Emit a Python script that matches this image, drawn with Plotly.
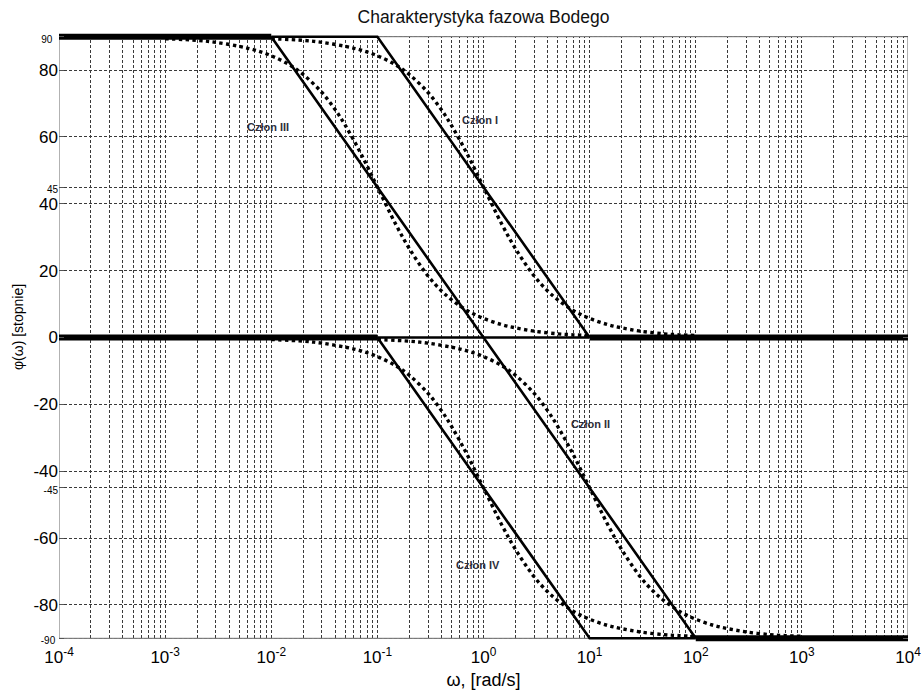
import math
import plotly.graph_objects as go

# --- Charakterystyki fazowe: przebiegi dokładne (punkty odczytane) ---
w_I = [0.01, 0.02, 0.03, 0.05, 0.07, 0.1, 0.15, 0.2, 0.3, 0.4, 0.5, 0.7, 1, 1.5, 2, 3, 4, 5, 7, 10, 15, 20, 30, 50, 70, 100]
phi_I = [89.4, 88.9, 88.3, 87.1, 86.0, 84.3, 81.5, 78.7, 73.3, 68.2, 63.4, 55.0, 45.0, 33.7, 26.6, 18.4, 14.0, 11.3, 8.1, 5.7, 3.8, 2.9, 1.9, 1.1, 0.8, 0.6]

w_III = [0.001, 0.002, 0.003, 0.005, 0.007, 0.01, 0.015, 0.02, 0.03, 0.04, 0.05, 0.07, 0.1, 0.15, 0.2, 0.3, 0.4, 0.5, 0.7, 1, 1.5, 2, 3, 5, 7, 10]
phi_III = [89.4, 88.9, 88.3, 87.1, 86.0, 84.3, 81.5, 78.7, 73.3, 68.2, 63.4, 55.0, 45.0, 33.7, 26.6, 18.4, 14.0, 11.3, 8.1, 5.7, 3.8, 2.9, 1.9, 1.1, 0.8, 0.6]

w_II = [0.1, 0.2, 0.3, 0.5, 0.7, 1, 1.5, 2, 3, 4, 5, 7, 10, 15, 20, 30, 40, 50, 70, 100, 150, 200, 300, 500, 700, 1000]
phi_II = [-0.6, -1.1, -1.7, -2.9, -4.0, -5.7, -8.5, -11.3, -16.7, -21.8, -26.6, -35.0, -45.0, -56.3, -63.4, -71.6, -76.0, -78.7, -81.9, -84.3, -86.2, -87.1, -88.1, -88.9, -89.2, -89.4]

w_IV = [0.01, 0.02, 0.03, 0.05, 0.07, 0.1, 0.15, 0.2, 0.3, 0.4, 0.5, 0.7, 1, 1.5, 2, 3, 4, 5, 7, 10, 15, 20, 30, 50, 70, 100]
phi_IV = [-0.6, -1.1, -1.7, -2.9, -4.0, -5.7, -8.5, -11.3, -16.7, -21.8, -26.6, -35.0, -45.0, -56.3, -63.4, -71.6, -76.0, -78.7, -81.9, -84.3, -86.2, -87.1, -88.1, -88.9, -89.2, -89.4]

# --- Asymptoty ---
asym_w_I = [0.01, 0.1, 10]
asym_phi_I = [90, 90, 0]
asym_w_III = [0.01, 1, 10]
asym_phi_III = [90, 0, 0]
asym_w_IV = [0.1, 10, 100]
asym_phi_IV = [0, -90, -90]
asym_w_II = [0.1, 1, 100]
asym_phi_II = [0, 0, -90]

# wspólne odcinki asymptot (linia pogrubiona)
common_w = [[1e-4, 0.01], [1e-4, 0.1], [10, 1e4], [100, 1e4]]
common_phi = [[90, 90], [0, 0], [0, 0], [-90, -90]]

# --- Opisy członów ---
label_text = ["Człon I", "Człon III", "Człon II", "Człon IV"]
label_w = [0.92, 0.0093, 10.2, 0.89]
label_phi = [65, 63, -25.8, -68.2]

# --- Osie ---
x_min, x_max = 1e-4, 1e4
x_tickvals = [1e-4, 1e-3, 1e-2, 1e-1, 1e0, 1e1, 1e2, 1e3, 1e4]
x_ticktext = ["10<sup>-4</sup>", "10<sup>-3</sup>", "10<sup>-2</sup>", "10<sup>-1</sup>",
              "10<sup>0</sup>", "10<sup>1</sup>", "10<sup>2</sup>", "10<sup>3</sup>", "10<sup>4</sup>"]
x_minor_vals = [m * d for d in x_tickvals[:-1] for m in range(2, 10)]
y_tickvals = [-90, -80, -60, -45, -40, -20, 0, 20, 40, 45, 60, 80, 90]
small = '<span style="font-size:10px">{}</span>'
y_ticktext = [small.format("-90&nbsp;"), "-80", "-60", small.format("-45"), "-40", "-20", "0",
              "20", "40", small.format("45"), "60", "80", small.format("90&nbsp;&nbsp;")]

FONT = "Liberation Sans, Arial"

fig = go.Figure()

# maska zakrywająca siatkę poza zakresem ±90°
for y0, y1 in [(90, 92), (-92, -90)]:
    fig.add_trace(go.Scatter(x=[x_min, x_max, x_max, x_min, x_min], y=[y0, y0, y1, y1, y0],
                             mode="lines", fill="toself", fillcolor="white",
                             line=dict(width=0, color="white"), hoverinfo="skip"))
# ramka
fig.add_trace(go.Scatter(x=[x_min, x_max, x_max, x_min, x_min], y=[-90, -90, 90, 90, -90],
                         mode="lines", line=dict(width=1, color="#666"), hoverinfo="skip"))

dotted = dict(color="black", width=3.4, dash="dot", shape="spline", smoothing=1.0)
solid = dict(color="black", width=2.6)

for w, p in [(w_I, phi_I), (w_III, phi_III), (w_II, phi_II), (w_IV, phi_IV)]:
    fig.add_trace(go.Scatter(x=w, y=p, mode="lines", line=dotted, hoverinfo="skip"))

for w, p in [(asym_w_I, asym_phi_I), (asym_w_III, asym_phi_III),
             (asym_w_II, asym_phi_II), (asym_w_IV, asym_phi_IV)]:
    fig.add_trace(go.Scatter(x=w, y=p, mode="lines", line=solid, hoverinfo="skip"))

for w, p in zip(common_w, common_phi):
    fig.add_trace(go.Scatter(x=w, y=p, mode="lines", line=dict(color="black", width=6),
                             hoverinfo="skip"))

# na osi logarytmicznej adnotacje podaje się w log10
for t, w, p in zip(label_text, label_w, label_phi):
    fig.add_annotation(x=math.log10(w), y=p, text=f"<b>{t}</b>", showarrow=False,
                       font=dict(family=FONT, size=11, color="#2e2e3a"),
                       xanchor="center", yanchor="middle")

# opis osi pionowej
fig.add_annotation(text="φ(ω) [stopnie]", xref="paper", yref="paper",
                   x=-41 / 849, y=(645 - 327) / 615, textangle=-90, showarrow=False,
                   xanchor="center", yanchor="middle",
                   font=dict(family=FONT, size=14, color="black"))

grid_dash = "3px,2px"
grid_col = "#3a3a3a"

fig.update_xaxes(
    type="log", range=[math.log10(x_min), math.log10(x_max)],
    tickmode="array", tickvals=x_tickvals, ticktext=x_ticktext,
    showgrid=True, gridcolor=grid_col, gridwidth=1, griddash=grid_dash,
    minor=dict(tickmode="array", tickvals=x_minor_vals, showgrid=True,
               gridcolor=grid_col, gridwidth=1, griddash=grid_dash, ticks=""),
    showline=False, zeroline=False, ticks="", automargin=False,
    tickfont=dict(family=FONT, size=17, color="black"),
    title=dict(text="ω, [rad/s]", font=dict(family=FONT, size=18, color="black"),
               standoff=7),
)
fig.update_yaxes(
    range=[-92, 92],
    tickmode="array", tickvals=y_tickvals, ticktext=y_ticktext,
    showgrid=True, gridcolor=grid_col, gridwidth=1, griddash=grid_dash,
    showline=False, zeroline=False, ticks="inside", ticklen=5, tickcolor="#555",
    mirror="ticks", automargin=False,
    tickfont=dict(family=FONT, size=17, color="black"),
)

fig.update_layout(
    width=924, height=695,
    margin=dict(l=59, r=16, t=30, b=50),
    paper_bgcolor="white", plot_bgcolor="white",
    showlegend=False,
    title=dict(text="Charakterystyka fazowa Bodego", x=0.5, xref="paper", xanchor="center",
               y=1 - 17 / 695, yref="container", yanchor="middle",
               font=dict(family=FONT, size=17.5, color="#111")),
)

fig.write_html("out.html")
